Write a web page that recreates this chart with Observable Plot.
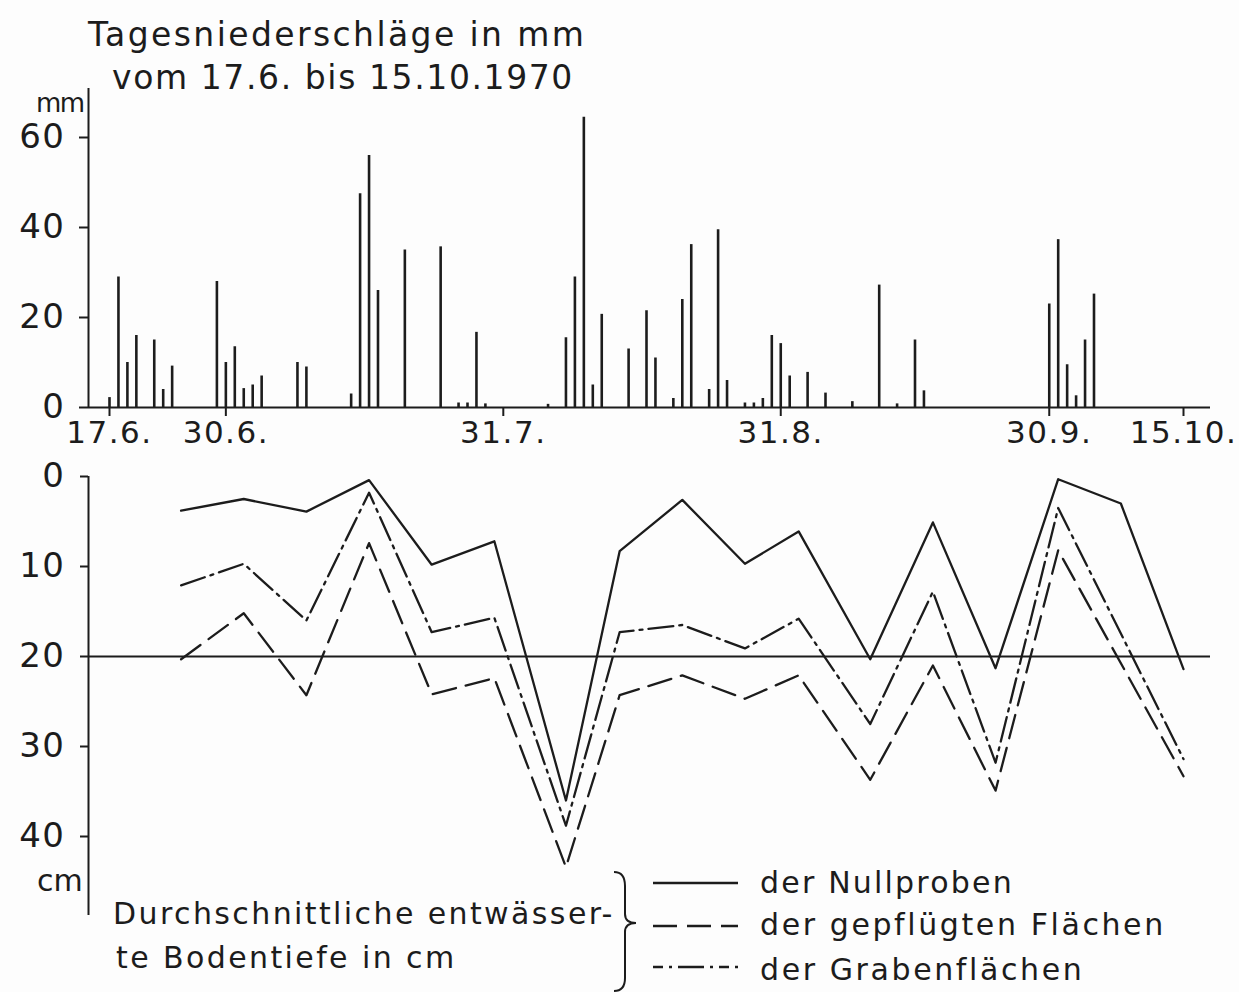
<!DOCTYPE html>
<html>
<head>
<meta charset="utf-8">
<script src="https://cdn.jsdelivr.net/npm/d3@7"></script>
<script src="https://cdn.jsdelivr.net/npm/@observablehq/plot@0.6"></script>
<style>
  body { margin: 0; background: #ffffff; }
  #wrap { position: relative; width: 1239px; height: 992px; overflow: hidden;
          font-family: "DejaVu Sans", sans-serif; color: #1c1c1c; background: #fdfdfd; }
  .t { position: absolute; white-space: nowrap; }
  .chart { position: absolute; left: 0; }
</style>
</head>
<body>
<div id="wrap">
  <div class="t" style="left:88px; top:18px; font-size:33px; line-height:33px; letter-spacing:2.4px;">Tagesniederschläge in mm</div>
  <div class="t" style="left:112px; top:61px; font-size:33px; line-height:33px; letter-spacing:1.6px;">vom 17.6. bis 15.10.1970</div>
  <div class="t" style="left:36px; top:90px; font-size:26px; line-height:26px; letter-spacing:-1.5px;">mm</div>
  <div class="t" style="left:37px; top:866px; font-size:30px; line-height:30px;">cm</div>
  <div class="t" style="left:113px; top:899px; font-size:30px; line-height:30px; letter-spacing:2.4px;">Durchschnittliche entwässer-</div>
  <div class="t" style="left:116px; top:943px; font-size:30px; line-height:30px; letter-spacing:2.4px;">te Bodentiefe in cm</div>
  <div class="t" style="left:760px; top:868px; font-size:30px; line-height:30px; letter-spacing:2.2px;">der Nullproben</div>
  <div class="t" style="left:760px; top:910px; font-size:30px; line-height:30px; letter-spacing:2.6px;">der gepflügten Flächen</div>
  <div class="t" style="left:760px; top:955px; font-size:30px; line-height:30px; letter-spacing:2.6px;">der Grabenflächen</div>
  <svg style="position:absolute; left:600px; top:860px;" width="639" height="132">
    <path d="M14,12 Q25,12 25,26 L25,54 Q25,63 36,63 Q25,63 25,72 L25,118 Q25,131 14,131" fill="none" stroke="#1c1c1c" stroke-width="2"/>
    <line x1="53" x2="138" y1="23" y2="23" stroke="#1c1c1c" stroke-width="2.3"/>
    <line x1="46" x2="138" y1="66" y2="66" stroke="#1c1c1c" stroke-width="2.3" stroke-dasharray="24 10" stroke-dashoffset="-7"/>
    <line x1="53" x2="138" y1="107" y2="107" stroke="#1c1c1c" stroke-width="2.3" stroke-dasharray="10 6 3 6 26 6 3 6"/>
  </svg>
</div>
<script>
// ---------- data ----------
const rainDates = [
  "1970-06-17","1970-06-18","1970-06-19","1970-06-20","1970-06-22","1970-06-23","1970-06-24",
  "1970-06-29","1970-06-30","1970-07-01","1970-07-02","1970-07-03","1970-07-04",
  "1970-07-08","1970-07-09","1970-07-14","1970-07-15","1970-07-16","1970-07-17","1970-07-20",
  "1970-07-24","1970-07-26","1970-07-27","1970-07-28","1970-07-29",
  "1970-08-05","1970-08-07","1970-08-08","1970-08-09","1970-08-10","1970-08-11","1970-08-14",
  "1970-08-16","1970-08-17","1970-08-19","1970-08-20","1970-08-21","1970-08-23","1970-08-24","1970-08-25",
  "1970-08-27","1970-08-28","1970-08-29","1970-08-30","1970-08-31","1970-09-01","1970-09-03",
  "1970-09-05","1970-09-08","1970-09-11","1970-09-13","1970-09-15","1970-09-16",
  "1970-09-30","1970-10-01","1970-10-02","1970-10-03","1970-10-04","1970-10-05"
];
const rainMm = [
  2.2, 29, 10, 16, 15, 4, 9.2,
  28, 10, 13.5, 4.2, 5, 7,
  10, 9, 3, 47.5, 56, 26, 35,
  35.7, 1, 1, 16.7, 0.8,
  0.7, 15.5, 29, 64.5, 5, 20.7, 13,
  21.5, 11, 2, 24, 36.2, 4, 39.5, 6,
  1, 1, 2, 16, 14.2, 7, 7.8,
  3.2, 1.3, 27.2, 0.8, 15, 3.7,
  23, 37.3, 9.5, 2.6, 15, 25.2
];
const tickDates = ["1970-06-17","1970-06-30","1970-07-31","1970-08-31","1970-09-30","1970-10-15"];
const tickLabels = ["17.6.","30.6.","31.7.","31.8.","30.9.","15.10."];
const rainTicks = [0, 20, 40, 60];
const depthTicks = [0, 10, 20, 30, 40];

const depthDates = ["1970-06-25","1970-07-02","1970-07-09","1970-07-16","1970-07-23","1970-07-30",
  "1970-08-07","1970-08-13","1970-08-20","1970-08-27","1970-09-02","1970-09-10","1970-09-17",
  "1970-09-24","1970-10-01","1970-10-08","1970-10-15"];
const nullproben = [3.8, 2.5, 3.9, 0.4, 9.8, 7.2, 36.0, 8.3, 2.6, 9.7, 6.1, 20.3, 5.1, 21.3, 0.3, 3.0, 21.4];
const gepfluegt  = [20.3, 15.2, 24.3, 7.4, 24.2, 22.4, 43.4, 24.3, 22.1, 24.7, 22.1, 33.7, 21.0, 34.9, 8.2, null, 33.3];
const graben     = [12.1, 9.7, 16.0, 1.8, 17.3, 15.7, 38.8, 17.3, 16.5, 19.1, 15.8, 27.5, 12.8, 31.8, 3.5, null, 31.4];

// ---------- layout ----------
const ink = "#1c1c1c";
const W = 1239;
const axisLeftPx = 88, axisRightPx = 1210, firstTickPx = 109, pxPerDay = 8.95;
const DAY = 864e5;
const start = new Date(tickDates[0]);
const xDomain = [
  new Date(+start + (axisLeftPx - firstTickPx) / pxPerDay * DAY),
  new Date(+start + (axisRightPx - firstTickPx) / pxPerDay * DAY)
];
const tickD = tickDates.map(d => new Date(d));
const labelFor = d => tickLabels[tickD.findIndex(t => +t === +d)];

const rain = rainDates.map((d, i) => ({date: new Date(d), mm: rainMm[i]}));
const mkSeries = vals => depthDates.map((d, i) => ({date: new Date(d), v: vals[i]})).filter(r => r.v != null);

const baseStyle = {fontFamily: "DejaVu Sans, sans-serif", fontSize: "34px", background: "transparent",
                   color: ink, overflow: "visible", letterSpacing: "1.5px"};

const topChart = Plot.plot({
  width: W, height: 460,
  marginTop: 88, marginBottom: 53, marginLeft: axisLeftPx, marginRight: W - axisRightPx,
  x: {type: "utc", domain: xDomain, label: null},
  y: {domain: [0, (407 - 88) / 4.5], label: null},
  style: baseStyle,
  marks: [
    Plot.ruleY([0], {stroke: ink, strokeWidth: 2}),
    Plot.ruleX([xDomain[0]], {stroke: ink, strokeWidth: 2}),
    Plot.ruleX(rain, {x: "date", y1: 0, y2: "mm", stroke: ink, strokeWidth: 2.6}),
    Plot.axisY({ticks: rainTicks, tickSize: 9, tickPadding: 14, strokeWidth: 2, fontSize: 34, label: null, tickFormat: d => String(d)}),
    Plot.axisX({ticks: tickD, tickSize: 9, tickPadding: 4, strokeWidth: 2, fontSize: 31, label: null, tickFormat: labelFor})
  ]
});
topChart.classList.add("chart");
topChart.style.top = "0px";

const bottomChart = Plot.plot({
  width: W, height: 532,
  marginTop: 16, marginBottom: 77, marginLeft: axisLeftPx, marginRight: W - axisRightPx,
  x: {type: "utc", domain: xDomain, label: null, axis: null},
  y: {domain: [0, (915 - 476) / 9], reverse: true, label: null},
  style: baseStyle,
  marks: [
    Plot.ruleY([20], {stroke: ink, strokeWidth: 2}),
    Plot.ruleX([xDomain[0]], {stroke: ink, strokeWidth: 2}),
    Plot.axisY({ticks: depthTicks, tickSize: 8, tickPadding: 15, strokeWidth: 2, fontSize: 34, label: null, tickFormat: d => String(d)}),
    Plot.line(mkSeries(nullproben), {x: "date", y: "v", stroke: ink, strokeWidth: 2.3}),
    Plot.line(mkSeries(gepfluegt), {x: "date", y: "v", stroke: ink, strokeWidth: 2.3, strokeDasharray: "24 10"}),
    Plot.line(mkSeries(graben), {x: "date", y: "v", stroke: ink, strokeWidth: 2.3, strokeDasharray: "25 6 3 6"})
  ]
});
bottomChart.classList.add("chart");
bottomChart.style.top = "460px";

const wrap = document.getElementById("wrap");
wrap.appendChild(topChart);
wrap.appendChild(bottomChart);
</script>
</body>
</html>
